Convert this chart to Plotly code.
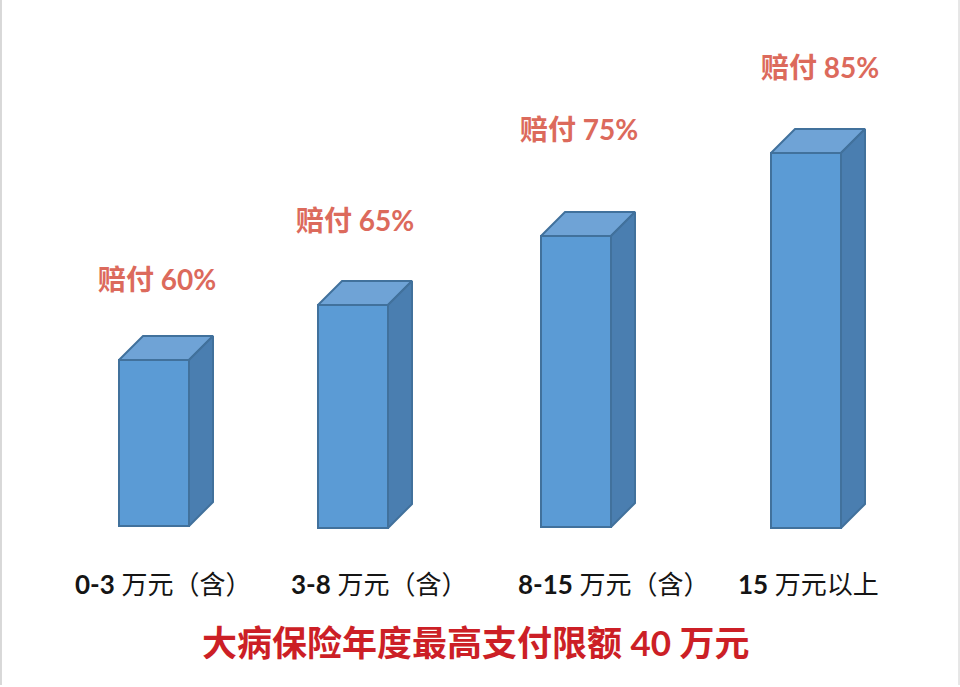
import plotly.graph_objects as go

categories = ["0-3", "3-8", "8-15", "15"]
category_labels = ["<b>0-3</b> 万元（含）", "<b>3-8</b> 万元（含）", "<b>8-15</b> 万元（含）", "<b>15</b> 万元以上"]
rates = ["<b>赔付 60%</b>", "<b>赔付 65%</b>", "<b>赔付 75%</b>", "<b>赔付 85%</b>"]
bar_heights = [166, 223, 291, 375]
bar_bases = [161, 159, 160, 159]
bar_centers = [154, 353, 576, 806]
label_centers = [163, 379, 614, 808]
rate_centers = [157, 355, 579, 820]
rate_levels = [408, 467, 558, 620]
footer = "<b>大病保险年度最高支付限额 40 万元</b>"

W, H = 960, 687
BAR_W, DEPTH = 70, 24
FRONT, TOP, SIDE, EDGE = "#5b9bd5", "#6fa3d6", "#4a7eb0", "#41719c"
CJK = "Lato, 'Noto Sans CJK SC', sans-serif"

fig = go.Figure()
for c, h, b in zip(bar_centers, bar_heights, bar_bases):
    xl, xr = c - BAR_W / 2, c + BAR_W / 2
    t = b + h
    fig.add_trace(go.Scatter(
        x=[xl, xl + DEPTH, xr + DEPTH, xr, xl], y=[t, t + DEPTH, t + DEPTH, t, t],
        mode="lines", fill="toself", fillcolor=TOP, line=dict(color=EDGE, width=2),
        hoverinfo="skip", showlegend=False))
    fig.add_trace(go.Scatter(
        x=[xr, xr + DEPTH, xr + DEPTH, xr, xr], y=[b, b + DEPTH, t + DEPTH, t, b],
        mode="lines", fill="toself", fillcolor=SIDE, line=dict(color=EDGE, width=2),
        hoverinfo="skip", showlegend=False))

fig.add_trace(go.Bar(
    x=bar_centers, y=bar_heights, base=bar_bases, width=BAR_W,
    marker=dict(color=FRONT, line=dict(color=EDGE, width=2)),
    customdata=categories, showlegend=False))

annotations = []
for x, text in zip(label_centers, category_labels):
    annotations.append(dict(x=x, y=H - 584, text=text, showarrow=False,
                            font=dict(family=CJK, size=26, color="#151515")))
for x, y, text in zip(rate_centers, rate_levels, rates):
    annotations.append(dict(x=x, y=y, text=text, showarrow=False,
                            font=dict(family=CJK, size=28, color="#dc6a5c")))
annotations.append(dict(x=476, y=H - 642, text=footer, showarrow=False,
                        font=dict(family=CJK, size=35, color="#cc1f26")))

fig.update_layout(
    width=W, height=H, margin=dict(l=0, r=0, t=0, b=0),
    paper_bgcolor="white", plot_bgcolor="white",
    xaxis=dict(range=[0, W], visible=False, fixedrange=True),
    yaxis=dict(range=[0, H], visible=False, fixedrange=True),
    annotations=annotations,
    shapes=[
        dict(type="line", xref="paper", yref="paper", x0=0.001, x1=0.001, y0=0.003, y1=1,
             line=dict(color="#d8d8d8", width=2)),
        dict(type="line", xref="paper", yref="paper", x0=0.999, x1=0.999, y0=0.003, y1=1,
             line=dict(color="#e6e6e6", width=2)),
    ],
)
fig.write_html("out.html", post_script="document.body.style.margin='0';document.documentElement.style.overflow='hidden';", config={"displayModeBar": False})
